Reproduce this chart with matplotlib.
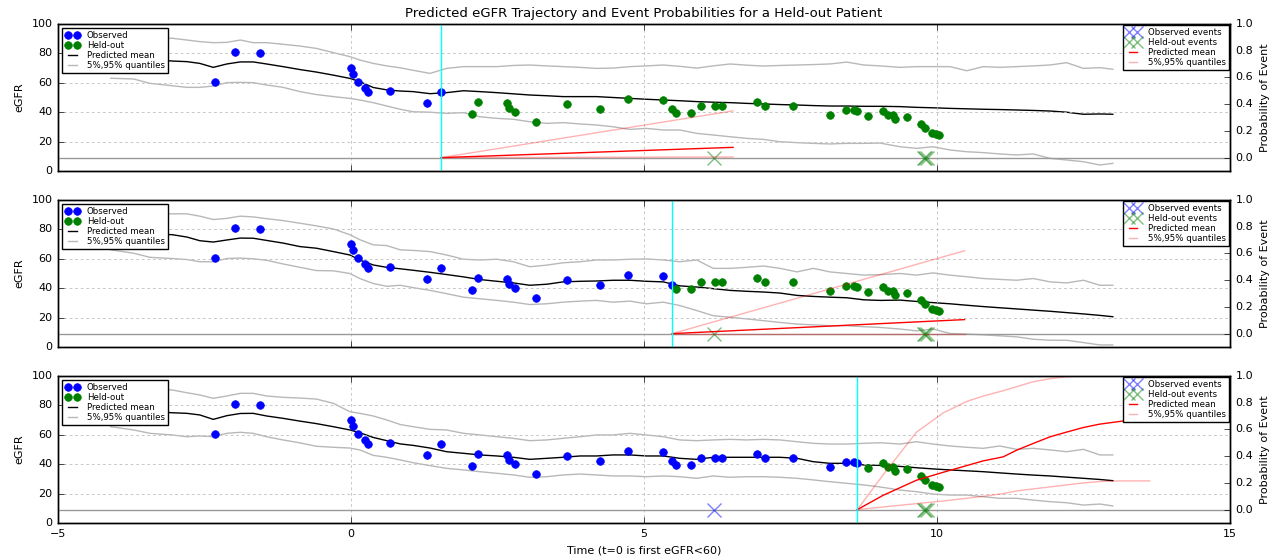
import numpy as np
import matplotlib
matplotlib.use("Agg")
import matplotlib.pyplot as plt

plt.style.use("classic")
plt.rcParams["figure.facecolor"] = "white"
plt.rcParams["savefig.facecolor"] = "white"
plt.rcParams["font.family"] = ["DejaVu Sans"]
plt.rcParams["font.size"] = 8

# ---------------- data ----------------
OBS_TIMES = [-2.32, -1.98, -1.55, 0.0, 0.03, 0.12, 0.24, 0.29, 0.67, 1.30, 1.54,
             2.07, 2.16, 2.67, 2.70, 2.80, 3.16, 3.68, 4.25, 4.72, 5.33, 5.48,
             5.54, 5.80, 5.98, 6.21, 6.33, 6.93, 7.06, 7.54, 8.17, 8.45, 8.59,
             8.64, 8.83, 9.08, 9.17, 9.25, 9.28, 9.48, 9.72, 9.80, 9.91, 9.98, 10.04]
OBS_EGFR = [60.5, 81, 80, 70, 66, 60.5, 56.5, 54, 54.5, 46, 53.5,
            39, 47, 46, 43, 40, 33, 45.4, 42.4, 49.2, 48.5, 42.4,
            39.2, 39.2, 44.4, 44.4, 44.4, 46.9, 44.4, 44.4, 38.3, 41.7, 41.7,
            41, 37.2, 40.6, 38.3, 38.3, 35.6, 36.5, 32, 29.3, 25.9, 25.2, 24.7]

EVENT_TIMES = [6.19, 9.77, 9.80, 9.83]

CUTOFFS = [1.54, 5.48, 8.64]

T_GRID = [-4.10, -3.71, -3.43, -3.05, -2.80, -2.58, -2.35, -2.12, -1.89, -1.67,
          -1.44, -1.16, -0.87, -0.59, -0.30, -0.02, 0.15, 0.38, 0.61, 0.84,
          1.06, 1.35, 1.63, 1.92, 2.20, 2.49, 2.77, 3.05, 3.34, 3.62,
          3.91, 4.19, 4.47, 4.76, 5.04, 5.33, 5.61, 5.90, 6.18, 6.47,
          6.75, 7.04, 7.32, 7.61, 7.89, 8.17, 8.46, 8.75, 9.03, 9.37,
          9.65, 9.93, 10.22, 10.51, 10.79, 11.07, 11.36, 11.64, 11.93, 12.21,
          12.50, 12.78, 13.00]

P1_MEAN = [77, 76.5, 76, 74.8, 74.4, 73.2, 70.5, 72.8, 74.2, 74.2,
           72.8, 71.0, 69.0, 67.3, 65.2, 63.0, 60.8, 56.8, 55.2, 54.4,
           54.0, 52.6, 53.3, 54.6, 54.0, 53.3, 52.5, 51.7, 51.2, 50.6,
           50.6, 50.6, 50.0, 49.4, 48.8, 48.3, 47.8, 47.2, 46.8, 46.5,
           46.0, 45.6, 45.2, 44.9, 44.5, 44.2, 44.2, 44.0, 44.0, 43.8,
           43.3, 43.0, 42.6, 42.3, 42.0, 41.8, 41.5, 41.2, 40.8, 40.0,
           38.6, 38.8, 38.6]
P1_HI = [91, 91, 90.5, 90.3, 89.1, 88.0, 87.3, 87.5, 89.1, 87.3,
         87.3, 86.2, 85.0, 83.4, 80.5, 77.8, 75.5, 73.2, 71.5, 70.2,
         68.5, 66.4, 69.8, 71.0, 71.0, 71.0, 71.8, 72.1, 71.5, 71.0,
         70.5, 69.8, 70.0, 71.0, 71.5, 72.1, 71.2, 70.0, 71.5, 72.8,
         72.0, 71.4, 71.8, 72.1, 72.4, 72.8, 74.1, 72.1, 71.5, 70.5,
         71.0, 71.0, 71.0, 68.2, 71.0, 70.5, 71.0, 71.5, 72.1, 73.7,
         69.8, 70.3, 69.2]
P1_LO = [63.1, 62.6, 59.6, 58.0, 56.9, 56.9, 57.8, 60.1, 60.3, 60.1,
         58.5, 56.9, 54.0, 52.0, 50.6, 49.4, 48.3, 46.5, 44.2, 42.0,
         40.3, 40.0, 39.2, 39.7, 36.9, 35.8, 35.2, 33.5, 32.4, 32.9,
         32.0, 31.3, 30.1, 28.3, 29.0, 27.9, 27.9, 25.6, 24.5, 23.3,
         22.2, 21.5, 19.9, 19.3, 18.8, 18.4, 18.8, 18.8, 19.0, 16.5,
         15.4, 16.5, 14.3, 13.1, 12.5, 11.6, 10.9, 11.6, 8.6, 7.5,
         6.3, 4.1, 5.2]

P2_MEAN = [78, 77.5, 77, 76.4, 74.8, 72.3, 71.4, 72.8, 74.1, 74.0,
           72.5, 70.7, 68.3, 67.2, 64.9, 62.6, 59.2, 55.8, 54.2, 53.2,
           52.2, 50.8, 49.3, 47.7, 45.9, 44.7, 43.6, 42.0, 42.7, 44.3,
           44.7, 44.9, 45.4, 45.4, 44.7, 44.3, 41.6, 40.8, 39.7, 38.5,
           37.9, 37.4, 36.7, 35.1, 34.4, 33.9, 33.5, 32.1, 31.7, 31.9,
           31.0, 30.2, 29.4, 28.4, 27.5, 26.7, 25.9, 25.1, 24.3, 23.4,
           22.5, 21.5, 20.6]
P2_HI = [91, 91, 90.8, 90.6, 90.6, 89.0, 86.7, 87.5, 89.0, 88.5,
         87.3, 86.0, 84.2, 82.4, 80.3, 76.4, 73.0, 69.5, 69.0, 66.1,
         65.7, 64.9, 62.6, 59.7, 59.2, 59.7, 58.0, 54.6, 55.7, 57.3,
         58.0, 59.2, 59.2, 59.7, 59.9, 59.2, 58.0, 59.2, 53.5, 53.5,
         54.2, 55.1, 53.5, 51.1, 53.5, 51.1, 50.0, 48.9, 49.2, 50.0,
         48.9, 50.4, 48.9, 47.8, 46.6, 46.0, 45.4, 46.6, 44.3, 43.6,
         45.4, 42.0, 42.0]
P2_LO = [66.1, 63.8, 61.0, 60.2, 59.5, 58.0, 58.0, 60.2, 60.5, 60.0,
         59.0, 56.5, 54.2, 52.0, 51.8, 50.0, 46.6, 43.2, 41.3, 42.0,
         40.4, 38.5, 36.3, 33.9, 32.8, 31.7, 30.5, 28.9, 29.4, 30.5,
         31.2, 31.7, 30.5, 31.2, 29.4, 30.5, 28.2, 24.8, 21.3, 20.2,
         19.1, 17.9, 16.7, 15.6, 15.1, 14.5, 14.5, 13.8, 13.3, 12.2,
         11.0, 12.2, 9.2, 8.8, 8.3, 7.6, 6.9, 5.3, 4.6, 4.6,
         3.0, 1.4, 1.4]

P3_MEAN = [77, 76.5, 76, 75.0, 74.6, 73.5, 70.5, 73.0, 74.5, 74.6,
           72.8, 71.2, 69.3, 67.6, 65.5, 63.3, 61.4, 58.2, 56.0, 53.8,
           52.8, 51.0, 48.5, 47.4, 46.3, 45.6, 44.7, 43.3, 44.0, 44.7,
           45.6, 45.6, 46.3, 46.3, 45.6, 45.6, 44.0, 43.3, 44.7, 44.7,
           44.7, 44.7, 44.7, 44.0, 41.7, 40.6, 40.6, 39.5, 39.2, 38.5,
           37.6, 36.8, 36.1, 35.5, 34.9, 34.1, 33.3, 32.6, 32.0, 31.2,
           30.4, 29.6, 28.8]
P3_HI = [91, 91, 91, 90.5, 88.6, 87.1, 84.8, 86.4, 88.2, 88.2,
         86.4, 85.5, 85.0, 84.3, 81.4, 75.7, 74.6, 72.8, 70.1, 67.0,
         65.5, 63.7, 63.3, 61.0, 59.9, 58.7, 57.6, 56.0, 56.5, 57.6,
         58.7, 59.9, 59.9, 61.0, 59.9, 58.7, 56.5, 56.0, 56.5, 56.9,
         56.5, 56.9, 56.5, 55.3, 54.2, 53.7, 53.7, 54.2, 54.6, 53.7,
         55.3, 53.7, 52.4, 51.5, 50.8, 52.4, 50.1, 50.8, 49.7, 48.5,
         50.1, 46.3, 46.3]
P3_LO = [65.5, 63.3, 61.0, 59.9, 58.7, 59.2, 58.7, 61.0, 61.7, 61.0,
         58.7, 56.5, 54.5, 52.2, 51.5, 51.0, 49.7, 46.0, 44.7, 42.9,
         41.0, 39.0, 37.2, 36.1, 34.9, 33.8, 32.7, 31.1, 31.5, 32.7,
         33.3, 32.7, 32.0, 32.0, 31.5, 32.0, 31.5, 30.4, 32.0, 31.1,
         31.5, 31.5, 31.1, 30.4, 29.3, 28.1, 27.0, 25.9, 24.5, 22.4,
         21.3, 19.7, 19.0, 19.0, 17.9, 16.8, 16.8, 15.6, 14.5, 13.8,
         12.2, 12.9, 11.6]

# event probabilities
P1_PROB_T = [1.54, 6.52]
P1_PROB_MEAN = [0.0, 0.077]
P1_PROB_HI = [0.0, 0.35]
P1_PROB_LO = [0.0, 0.005]

P2_PROB_T = [5.48, 10.47]
P2_PROB_MEAN = [0.0, 0.105]
P2_PROB_HI = [0.0, 0.62]
P2_PROB_LO = [0.0, 0.0]

P3_PROB_T = [8.64, 9.08, 9.65, 10.11, 10.51, 10.79, 11.13, 11.36, 11.64,
             11.93, 12.21, 12.50, 12.78, 13.07, 13.63]
P3_PROB_MEAN = [0.0, 0.107, 0.22, 0.28, 0.33, 0.365, 0.395, 0.445, 0.495,
                0.545, 0.58, 0.615, 0.64, 0.657, 0.69]
P3_PROB_HI = [0.0, 0.26, 0.58, 0.725, 0.81, 0.85, 0.89, 0.92, 0.957,
              0.98, 0.995, 1.0, 1.0, 1.0, 1.0]
P3_PROB_LO = [0.0, 0.02, 0.045, 0.065, 0.085, 0.10, 0.12, 0.14, 0.155,
              0.17, 0.185, 0.20, 0.21, 0.215, 0.215]

PANELS = [
    (P1_MEAN, P1_HI, P1_LO, P1_PROB_T, P1_PROB_MEAN, P1_PROB_HI, P1_PROB_LO),
    (P2_MEAN, P2_HI, P2_LO, P2_PROB_T, P2_PROB_MEAN, P2_PROB_HI, P2_PROB_LO),
    (P3_MEAN, P3_HI, P3_LO, P3_PROB_T, P3_PROB_MEAN, P3_PROB_HI, P3_PROB_LO),
]

# ---------------- plot ----------------
W, H = 1278, 558
fig = plt.figure(figsize=(W / 100, H / 100), dpi=100)

left = 58 / W
width = (1230 - 58) / W
height = 147 / H
bottoms = [(H - 171) / H, (H - 347) / H, (H - 523) / H]

leg_kw = dict(fontsize=6.2, labelspacing=0.1, borderpad=0.35, handlelength=1.6,
              handletextpad=0.9, borderaxespad=0.5, numpoints=2, fancybox=False,
              framealpha=1.0)

BLUE = '#0000ff'
GREEN = '#008000'

axes = []
for i in range(3):
    cut = CUTOFFS[i]
    mean, hi, lo, pt, pm, phi, plo = PANELS[i]
    ax = fig.add_axes([left, bottoms[i], width, height],
                      sharex=axes[0] if axes else None)
    axes.append(ax)
    ob_t = [t for t in OBS_TIMES if t <= cut + 1e-6]
    ob_y = [y for t, y in zip(OBS_TIMES, OBS_EGFR) if t <= cut + 1e-6]
    ho_t = [t for t in OBS_TIMES if t > cut + 1e-6]
    ho_y = [y for t, y in zip(OBS_TIMES, OBS_EGFR) if t > cut + 1e-6]
    ax.plot(ob_t, ob_y, linestyle='none', marker='o', color=BLUE, mfc=BLUE, mec=BLUE,
            ms=5.5, mew=0.5, label='Observed', zorder=3)
    ax.plot(ho_t, ho_y, linestyle='none', marker='o', color=GREEN, mfc=GREEN, mec=GREEN,
            ms=5.5, mew=0.5, label='Held-out', zorder=3)
    ax.plot(T_GRID, mean, color='k', lw=1, label='Predicted mean', zorder=2)
    ax.plot(T_GRID, hi, color='0.72', lw=1, label='5%,95% quantiles', zorder=2)
    ax.plot(T_GRID, lo, color='0.72', lw=1, zorder=2)
    ax.set_xlim(-5, 15)
    ax.set_ylim(0, 100)
    ax.set_yticks([0, 20, 40, 60, 80, 100])
    ax.set_ylabel('eGFR', fontsize=8)
    ax.grid(True, color='0.75', linestyle=(0, (2, 2)), linewidth=0.6)
    ax.tick_params(labelsize=8)
    ax.legend(loc='upper left', **leg_kw)

    ax2 = ax.twinx()
    ev_o = [t for t in EVENT_TIMES if t <= cut]
    ev_h = [t for t in EVENT_TIMES if t > cut]
    ax2.plot(ev_o, [0.0] * len(ev_o), linestyle='none', marker='x', color=BLUE,
             ms=10, mew=1, alpha=0.5, label='Observed events')
    ax2.plot(ev_h, [0.0] * len(ev_h), linestyle='none', marker='x', color=GREEN,
             ms=10, mew=1, alpha=0.5, label='Held-out events')
    ax2.plot(pt, pm, color='r', lw=1, label='Predicted mean')
    ax2.plot(pt, phi, color='r', lw=1, alpha=0.3, label='5%,95% quantiles')
    ax2.plot(pt, plo, color='r', lw=1, alpha=0.3)
    ax2.axhline(0, color='0.6', lw=1, zorder=0)
    ax2.axvline(cut, color='cyan', lw=1)
    ax2.set_ylim(-0.1, 1.0)
    ax2.set_yticks([0.0, 0.2, 0.4, 0.6, 0.8, 1.0])
    ax2.set_yticklabels(['0.0', '0.2', '0.4', '0.6', '0.8', '1.0'])
    ax2.set_ylabel('Probability of Event', fontsize=8)
    ax2.tick_params(labelsize=8)
    ax2.legend(loc='upper right', markerscale=0.8, **dict(leg_kw, borderaxespad=0.15))

    if i < 2:
        plt.setp(ax.get_xticklabels(), visible=False)

axes[0].set_xticks([-5, 0, 5, 10, 15])
axes[0].set_title('Predicted eGFR Trajectory and Event Probabilities for a Held-out Patient',
                  fontsize=9.5)
axes[2].set_xlabel('Time (t=0 is first eGFR<60)', fontsize=8)

fig.savefig('out.png', dpi=100)
